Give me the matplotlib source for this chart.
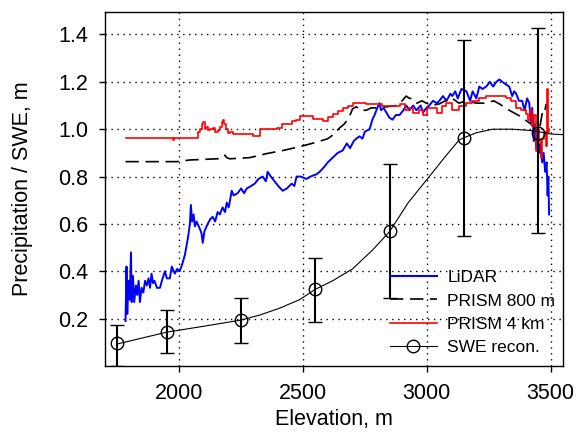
import numpy as np
import matplotlib
matplotlib.use('Agg')
import matplotlib.pyplot as plt
from matplotlib.lines import Line2D

plt.rcParams['font.family'] = ['Liberation Sans', 'DejaVu Sans']

# LiDAR
lidar_elev = [1783, 1787, 1790, 1795, 1800, 1805, 1808, 1813, 1818, 1825, 1830, 1836, 1841, 1848,
              1855, 1862, 1869, 1876, 1882, 1888, 1894, 1900, 1910, 1922, 1930, 1942, 1950, 1962,
              1970, 1982, 1992, 2002, 2012, 2023, 2035, 2043, 2047, 2052, 2058, 2063, 2070, 2083,
              2090, 2095, 2102, 2115, 2125, 2135, 2145, 2155, 2164, 2175, 2185, 2192, 2200, 2212,
              2220, 2236, 2250, 2262, 2273, 2290, 2305, 2320, 2337, 2350, 2357, 2370, 2385, 2400,
              2418, 2435, 2454, 2465, 2474, 2490, 2514, 2530, 2555, 2567, 2585, 2600, 2620, 2640,
              2660, 2677, 2690, 2705, 2715, 2728, 2740, 2750, 2769, 2780, 2789, 2800, 2809, 2815,
              2825, 2837, 2848, 2861, 2875, 2890, 2905, 2917, 2930, 2945, 2958, 2975, 2985, 2998,
              3010, 3025, 3040, 3051, 3065, 3080, 3095, 3103, 3115, 3125, 3140, 3160, 3175, 3185,
              3200, 3212, 3225, 3240, 3255, 3268, 3281, 3293, 3305, 3318, 3333, 3345, 3353, 3361,
              3372, 3385, 3395, 3405, 3414, 3420, 3426, 3432, 3437, 3442, 3448, 3454, 3460, 3466,
              3472, 3478, 3484, 3488, 3491, 3494]
lidar = [0.19, 0.42, 0.22, 0.36, 0.28, 0.48, 0.27, 0.38, 0.27, 0.34, 0.30, 0.36, 0.27, 0.33,
         0.31, 0.36, 0.34, 0.37, 0.33, 0.39, 0.35, 0.36, 0.33, 0.33, 0.36, 0.40, 0.37, 0.37,
         0.42, 0.39, 0.41, 0.40, 0.43, 0.47, 0.54, 0.60, 0.68, 0.61, 0.64, 0.59, 0.61, 0.58,
         0.56, 0.52, 0.57, 0.60, 0.62, 0.63, 0.61, 0.65, 0.64, 0.67, 0.65, 0.69, 0.67, 0.74,
         0.72, 0.73, 0.75, 0.73, 0.75, 0.76, 0.77, 0.79, 0.80, 0.78, 0.82, 0.80, 0.78, 0.76,
         0.74, 0.75, 0.77, 0.76, 0.80, 0.80, 0.79, 0.80, 0.81, 0.82, 0.84, 0.86, 0.88, 0.90,
         0.91, 0.94, 0.92, 0.95, 0.96, 0.97, 0.96, 0.99, 1.00, 1.04, 1.06, 1.09, 1.11, 1.08,
         1.09, 1.07, 1.05, 1.04, 1.06, 1.06, 1.08, 1.10, 1.08, 1.10, 1.08, 1.10, 1.07, 1.09,
         1.10, 1.12, 1.11, 1.12, 1.14, 1.12, 1.15, 1.14, 1.16, 1.13, 1.17, 1.16, 1.12, 1.16,
         1.13, 1.18, 1.17, 1.18, 1.20, 1.18, 1.20, 1.21, 1.20, 1.19, 1.18, 1.14, 1.16, 1.15,
         1.12, 1.12, 1.08, 1.13, 1.11, 1.03, 1.09, 0.95, 1.02, 0.92, 0.98, 0.90, 0.94, 0.86,
         0.90, 0.82, 0.86, 0.72, 0.80, 0.64]

# PRISM 800 m
p800_elev = [1783, 1990, 2043, 2151, 2170, 2184, 2192, 2204, 2285, 2353, 2418, 2486, 2554, 2600,
             2620, 2648, 2665, 2677, 2690, 2700, 2716, 2730, 2756, 2775, 2809, 2840, 2877, 2900,
             2917, 2930, 2942, 2960, 2980, 2998, 3020, 3051, 3075, 3103, 3130, 3160, 3200, 3240,
             3270, 3293, 3333, 3373, 3414, 3442, 3455, 3466, 3474, 3482]
p800 = [0.863, 0.863, 0.87, 0.875, 0.876, 0.89, 0.88, 0.875, 0.88, 0.897, 0.91, 0.926, 0.945, 0.96,
        0.975, 1.006, 1.02, 1.036, 1.06, 1.086, 1.095, 1.08, 1.08, 1.09, 1.09, 1.095, 1.10, 1.12,
        1.14, 1.13, 1.13, 1.11, 1.12, 1.11, 1.10, 1.107, 1.12, 1.13, 1.11, 1.12, 1.11, 1.11,
        1.12, 1.107, 1.08, 1.057, 1.027, 1.006, 1.00, 1.065, 1.06, 1.107]

# PRISM 4 km
p4k_elev = [1783, 1970, 1974, 1978, 2070, 2077, 2083, 2090, 2097, 2104, 2110, 2117, 2125, 2137,
            2145, 2157, 2165, 2172, 2177, 2182, 2190, 2197, 2205, 2216, 2260, 2297, 2318, 2325,
            2360, 2393, 2414, 2440, 2454, 2470, 2486, 2520, 2539, 2579, 2600, 2620, 2640, 2660,
            2680, 2700, 2756, 2821, 2860, 2890, 2910, 2930, 2945, 2970, 2985, 3000, 3022, 3040,
            3060, 3079, 3100, 3131, 3160, 3184, 3210, 3240, 3293, 3321, 3340, 3361, 3380, 3401,
            3410, 3418, 3426, 3434, 3442, 3448, 3454, 3460, 3466, 3474, 3480, 3486, 3490, 3494]
p4k = [0.964, 0.964, 0.955, 0.964, 0.964, 0.99, 1.00, 1.02, 1.03, 1.00, 1.01, 0.995, 1.00, 1.007,
       0.99, 0.995, 1.01, 1.03, 1.04, 1.02, 1.00, 0.985, 0.99, 0.98, 0.98, 0.97, 0.97, 1.00,
       1.00, 1.007, 1.02, 1.02, 1.036, 1.04, 1.057, 1.057, 1.044, 1.036, 1.05, 1.065, 1.075, 1.09,
       1.10, 1.11, 1.107, 1.10, 1.10, 1.107, 1.08, 1.09, 1.07, 1.08, 1.06, 1.09, 1.09, 1.07,
       1.10, 1.11, 1.08, 1.10, 1.11, 1.12, 1.13, 1.14, 1.14, 1.13, 1.12, 1.09, 1.08, 1.065,
       1.04, 1.08, 1.015, 1.06, 0.91, 1.00, 0.95, 0.88, 0.96, 0.99, 0.93, 1.17, 0.99, 1.00]

# SWE reconstruction (line + points with error bars)
swe_line_elev = [1750, 1850, 1950, 2100, 2250, 2325, 2405, 2486, 2550, 2620, 2700, 2781, 2850,
                 2882, 2925, 3010, 3075, 3131, 3150, 3200, 3265, 3346, 3414, 3450, 3500, 3550]
swe_line = [0.093, 0.118, 0.143, 0.168, 0.194, 0.215, 0.244, 0.28, 0.324, 0.36, 0.41, 0.49, 0.568,
            0.62, 0.69, 0.80, 0.885, 0.955, 0.964, 0.985, 1.0, 1.0, 0.995, 0.99, 0.98, 0.977]
swe_elev = [1750, 1950, 2250, 2550, 2850, 3150, 3450]
swe = [0.095, 0.143, 0.194, 0.324, 0.568, 0.964, 0.985]
swe_hi = [0.173, 0.236, 0.286, 0.455, 0.855, 1.377, 1.427]
swe_lo = [0.0, 0.055, 0.097, 0.185, 0.286, 0.547, 0.56]

fig = plt.figure(figsize=(5.79, 4.41), dpi=100)
ax = fig.add_axes([0.1813, 0.1701, 0.791, 0.8027])

ax.plot(lidar_elev, lidar, color='blue', lw=1.4)
ax.plot(p800_elev, p800, color='black', lw=1.2, dashes=(8, 4))
ax.plot(p4k_elev, p4k, color='red', lw=1.2, drawstyle='steps-post')
ax.plot(swe_line_elev, swe_line, color='black', lw=0.8)
yerr = [np.array(swe) - np.array(swe_lo), np.array(swe_hi) - np.array(swe)]
ax.errorbar(swe_elev, swe, yerr=yerr, fmt='o', color='black', mfc='none', ms=9,
            mew=1.0, elinewidth=1.5, capsize=4.7, capthick=1.5)

ax.set_xlim(1700, 3550)
ax.set_ylim(0, 1.495)
ax.set_xticks([2000, 2500, 3000, 3500])
ax.set_yticks([0.2, 0.4, 0.6, 0.8, 1.0, 1.2, 1.4])
ax.set_yticklabels(['0.2', '0.4', '0.6', '0.8', '1.0', '1.2', '1.4'])
ax.grid(True, color='black', lw=1.0, linestyle=(0, (1, 3.3)))
ax.tick_params(direction='out', length=4, width=1.0, labelsize=15.5, pad=8)
for s in ax.spines.values():
    s.set_linewidth(1.0)
ax.set_xlabel('Elevation, m', fontsize=15.5, labelpad=4)
ax.set_ylabel('Precipitation / SWE, m', fontsize=15.5, labelpad=18)

handles = [Line2D([], [], color='blue', lw=1.5),
           Line2D([], [], color='black', lw=1.2, dashes=(8, 4)),
           Line2D([], [], color='red', lw=1.2),
           Line2D([], [], color='black', lw=0.8, marker='o', mfc='none', ms=9)]
ax.legend(handles, ['LiDAR', 'PRISM 800 m', 'PRISM 4 km', 'SWE recon.'],
          loc='upper left', bbox_to_anchor=(0.622, 0.271), frameon=False,
          fontsize=12.5, borderpad=0, borderaxespad=0, handlelength=2.7,
          handletextpad=0.6, labelspacing=0.47)

fig.savefig('out.png', dpi=100)
